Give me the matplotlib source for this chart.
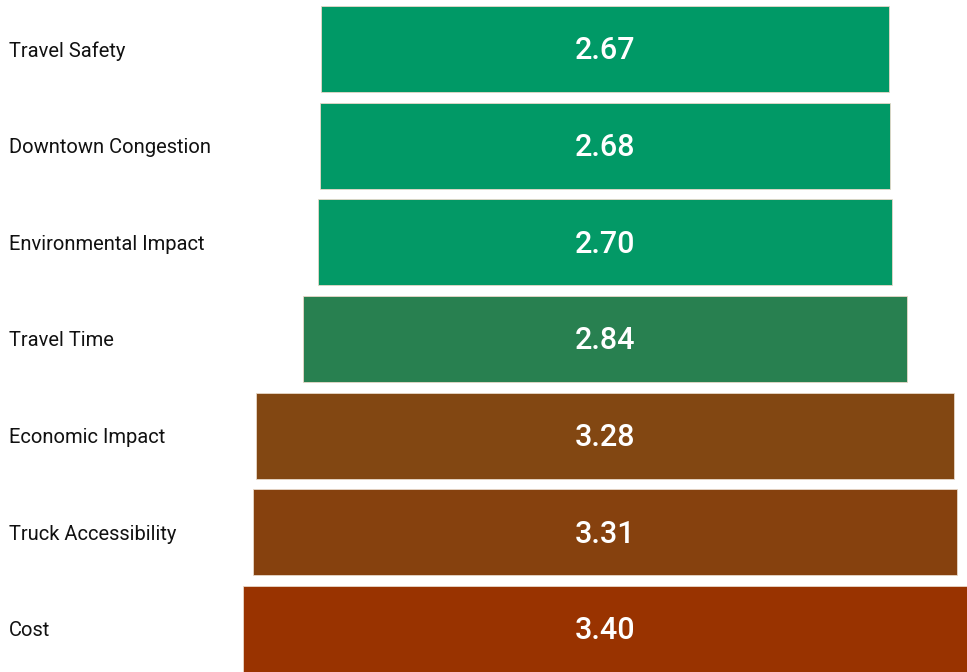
import matplotlib.pyplot as plt
import matplotlib.transforms as mtransforms

# data
categories = ["Travel Safety", "Downtown Congestion", "Environmental Impact",
              "Travel Time", "Economic Impact", "Truck Accessibility", "Cost"]
scores = [2.67, 2.68, 2.70, 2.84, 3.28, 3.31, 3.40]
colors = ["#009966", "#019966", "#039966", "#288050", "#824712", "#86410E", "#993300"]

W, H = 967, 672
fig = plt.figure(figsize=(W / 100, H / 100), dpi=100)
ax = fig.add_axes([0, 0, 1, 1])

# px per score unit, funnel centre in px
k = 724 / 3.40
cx = 605
pitch = 96.67
top = 49

for i, (cat, val, col) in enumerate(zip(categories, scores, colors)):
    ax.barh(i, val, left=-val / 2, height=0.89, color=col,
            edgecolor="#e8d8c8", linewidth=0.6)
    ax.text(0, i + 0.02, f"{val:.2f}", ha="center", va="center", color="white",
            fontsize=22, family="Roboto", fontweight="medium")

trans = mtransforms.blended_transform_factory(ax.transAxes, ax.transData)
for i, cat in enumerate(categories):
    ax.text(9 / W, i + 0.02, cat, transform=trans, ha="left", va="center",
            fontsize=14.5, family="Roboto", color="#111111")

ax.set_xlim(-cx / k, (W - cx) / k)
ax.set_ylim((H - top) / pitch, -top / pitch)
ax.axis("off")

fig.savefig("out.png", dpi=100)
